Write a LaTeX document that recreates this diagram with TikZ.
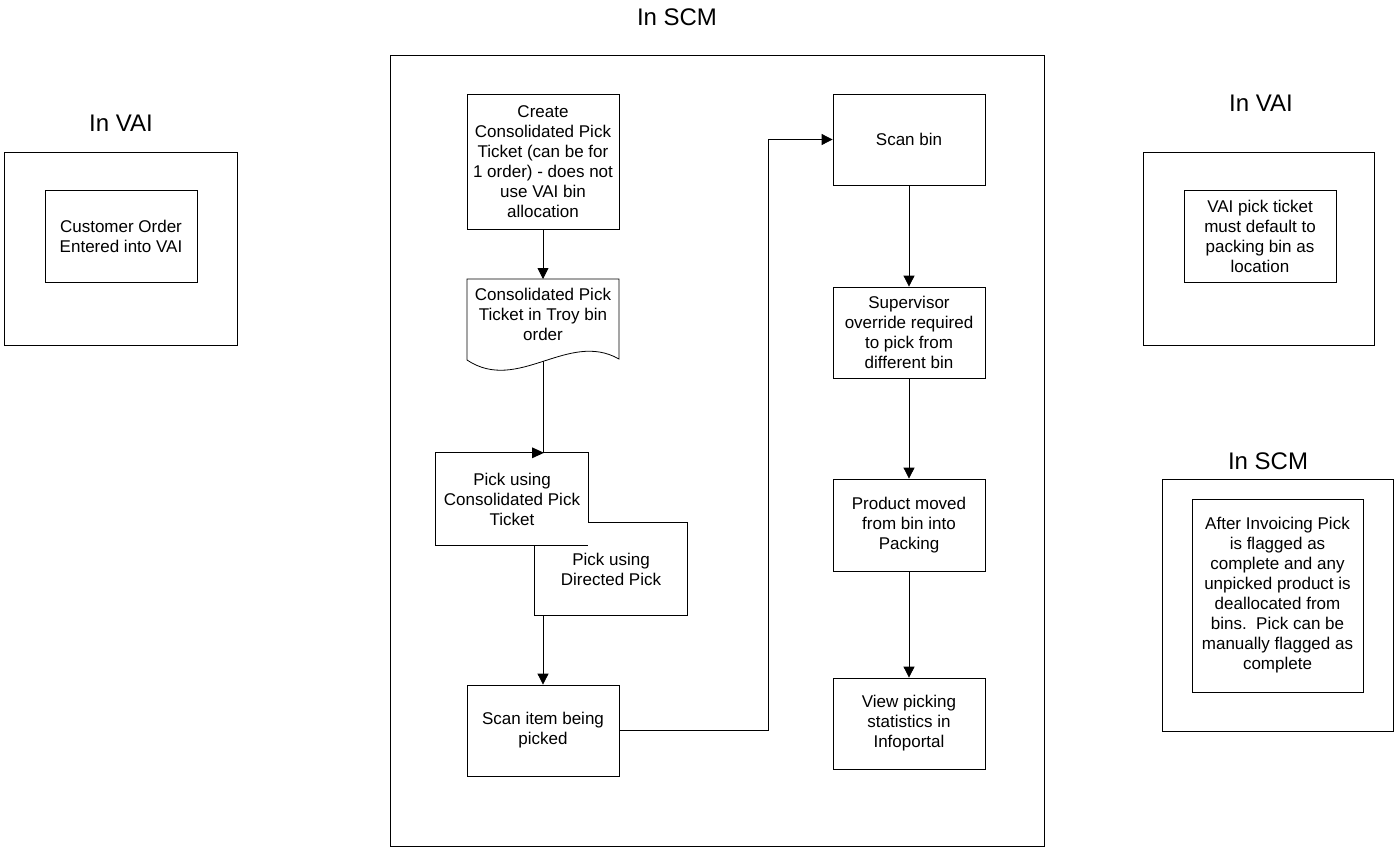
\documentclass[tikz,border=0pt]{standalone}
\usepackage{fontspec}
\setmainfont{Liberation Sans}
\usetikzlibrary{arrows.meta,calc}
\newcommand\bodyfnt{\fontsize{17}{20}\selectfont}
\newcommand\titlefnt{\fontsize{24}{28}\selectfont}
\begin{document}
\begin{tikzpicture}[x=1pt,y=-1pt,
  lw/.style={line width=0.8pt},
  box/.style={draw=black, lw, minimum width=152pt, minimum height=92pt, inner sep=0pt, align=center, font=\bodyfnt},
  plain/.style={inner sep=0pt, align=center, font=\bodyfnt},
  frame/.style={draw=black, lw, inner sep=0pt},
  ttl/.style={font=\titlefnt, inner sep=0pt},
  arr/.style={lw, -{Triangle[length=11pt,width=11pt]}},
  conn/.style={lw}]
\useasboundingbox (0,0) rectangle (1395,849);

% titles
\node[ttl] (tmain) at (677,17) {In SCM};
\node[ttl] (tlvai) at (121,123) {In VAI};
\node[ttl] (trvai) at (1261,103) {In VAI};
\node[ttl] (trscm) at (1268,461) {In SCM};

% frames
\node[frame, minimum width=654pt, minimum height=791pt] (fmain) at (717,450.5) {};
\node[frame, minimum width=233pt, minimum height=193pt] (flvai) at (120.5,248.5) {};
\node[frame, minimum width=231pt, minimum height=193pt] (frvai) at (1258.5,248.5) {};
\node[frame, minimum width=231pt, minimum height=252pt] (frscm) at (1277.5,605) {};

% side boxes
\node[box] (cust) at (121,236) {Customer Order\\Entered into VAI};
\node[box] (vait) at (1260,236) {VAI pick ticket\\must default to\\packing bin as\\location};
\node[box, minimum width=171pt, minimum height=193pt] (after) at (1277.5,595.5)
  {After Invoicing Pick\\is flagged as\\complete and any\\unpicked product is\\deallocated from\\bins.\ \ Pick can be\\manually flagged as\\complete};

% left column
\node[box, minimum height=135pt] (cr) at (543,161.5)
  {Create\\Consolidated Pick\\Ticket (can be for\\1 order) - does not\\use VAI bin\\allocation};
\node[plain] (doc) at (543,314) {Consolidated Pick\\Ticket in Troy bin\\order};
\draw[conn] (467,279) -- (619,279) -- (619,359)
  .. controls (568,330) and (518,394) .. (467,360) -- cycle;
\coordinate (doctop) at (543,279);
\coordinate (docb) at (543,361);

\node[plain, minimum width=152pt, minimum height=92pt] (pc) at (512,499)
  {Pick using\\Consolidated Pick\\Ticket};
\node[plain, minimum width=152pt, minimum height=92pt] (pd) at (611,569)
  {Pick using\\Directed Pick};
\draw[conn] (pc.north west) -- (pc.north east) -- (pc.east |- pd.north)
  -- (pd.north east) -- (pd.south east) -- (pd.south west) -- (pd.west |- pc.south);
\draw[conn] (pc.north east) -- (pc.north west) -- (pc.south west) -- (pc.south east);

\node[box, minimum height=91pt] (si) at (543,730.5) {Scan item being\\picked};

% right column
\node[box, minimum height=91pt] (sb) at (909,139.5) {Scan bin};
\node[box, minimum height=91pt] (sv) at (909,332.5) {Supervisor\\override required\\to pick from\\different bin};
\node[box] (pm) at (909,525) {Product moved\\from bin into\\Packing};
\node[box, minimum height=91pt] (vp) at (909,723.5) {View picking\\statistics in\\Infoportal};

% connectors
\draw[arr] (cr.south) -- (doctop);
\coordinate (pctip) at (docb |- pc.north);
\draw[conn] (docb) -- (pctip);
\fill ($(pctip)+(-11,-5.5)$) -- ($(pctip)+(1,0)$) -- ($(pctip)+(-11,5.5)$) -- cycle;
\draw[arr] (pd.south -| si.north) -- (si.north);
\coordinate (bend) at (768,400);
\draw[arr] (si.east) -- (si.east -| bend) -- (bend |- sb.west) -- (sb.west);
\draw[arr] (sb.south) -- (sv.north);
\draw[arr] (sv.south) -- (pm.north);
\draw[arr] (pm.south) -- (vp.north);
\end{tikzpicture}
\end{document}
